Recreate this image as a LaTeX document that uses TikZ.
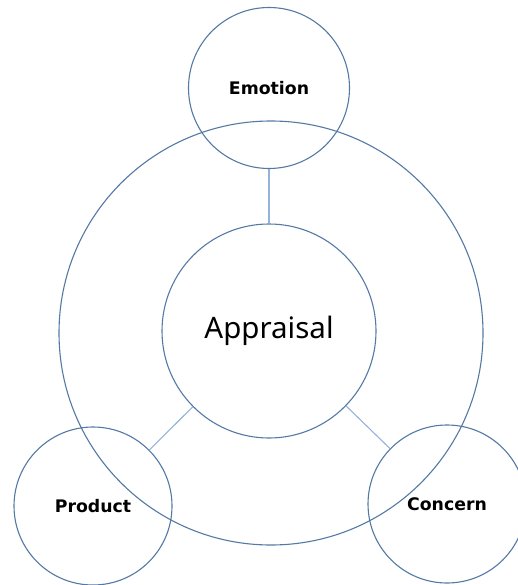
\documentclass[tikz,border=0pt]{standalone}
\usepackage{fontspec}
\setmainfont{Noto Sans}
\newfontfamily\lblfont{DejaVu Sans Bold}
\definecolor{ring}{HTML}{5479A3}
\definecolor{link}{HTML}{93B3DA}
\tikzset{
  ringc/.style={circle, draw=ring, line width=1.1pt, inner sep=0pt},
  lbl/.style={font=\lblfont\fontsize{17.3}{19}\selectfont},
  conn/.style={draw=link, line width=1.1pt}
}
\begin{document}
\begin{tikzpicture}[x=1pt,y=-1pt]
\useasboundingbox (0,0) rectangle (517,585);
\node[ringc, minimum size=424pt] (outer) at (271,333) {};
\node[ringc, minimum size=214pt, font=\fontsize{29.5}{32}\selectfont] (app) at (269,331) {Appraisal};
\node[ringc, minimum size=161pt, lbl] (emo) at (269,88) {Emotion};
\node[ringc, minimum size=158pt, lbl] (prod) at (93,506) {Product};
\node[ringc, minimum size=158pt, lbl] (conc) at (447,504) {Concern};
\draw[conn] (app) -- (emo);
\draw[conn] (app) -- (prod);
\draw[conn] (app) -- (conc);
\end{tikzpicture}
\end{document}
